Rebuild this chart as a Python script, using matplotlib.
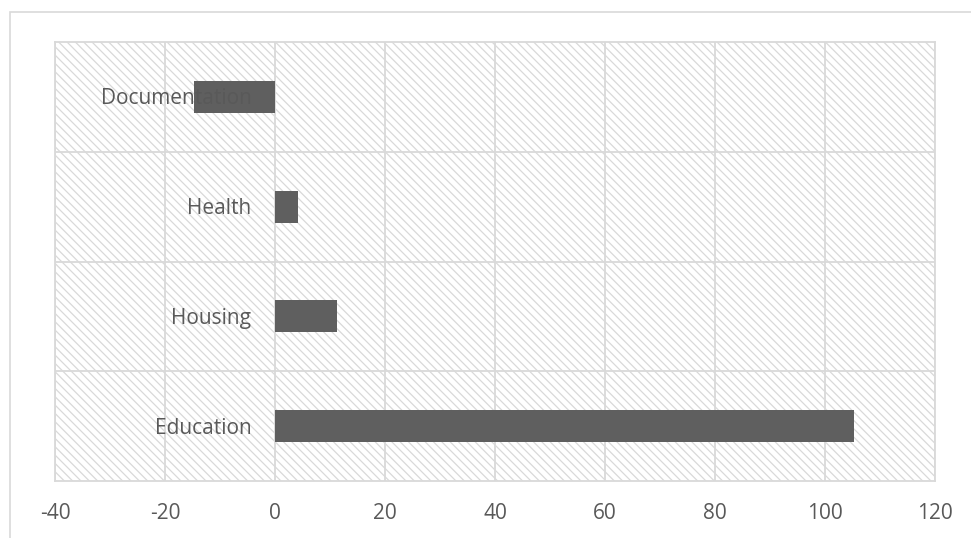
import matplotlib.pyplot as plt
from matplotlib.patches import Rectangle

categories = ['Education', 'Housing', 'Health', 'Documentation']
values = [105.3, 11.3, 4.2, -14.8]
x_ticks = [-40, -20, 0, 20, 40, 60, 80, 100, 120]

plt.rcParams['font.family'] = ['Open Sans', 'DejaVu Sans']
plt.rcParams['hatch.color'] = '#dedede'
plt.rcParams['hatch.linewidth'] = 0.9

text_col = '#595959'
grid_col = '#d9d9d9'

fig = plt.figure(figsize=(9.71, 5.38), dpi=100)
ax = fig.add_axes([55 / 971, 1 - 481 / 538, 880 / 971, 439 / 538])

# outer chart frame
fig.patches.append(Rectangle((10 / 971, -0.1), 1.0, 1 - 12 / 538 + 0.1,
                             transform=fig.transFigure, fill=False,
                             edgecolor=grid_col, linewidth=1.2))

# hatched plot area
ax.patch.set_facecolor('white')
ax.add_patch(Rectangle((0, 0), 1, 1, transform=ax.transAxes, facecolor='white',
                       edgecolor=grid_col, hatch='\\\\\\\\', linewidth=0, zorder=0))

pos = list(range(len(categories)))
ax.barh(pos, values, height=0.29, color='#5f5f5f', zorder=3)

ax.set_xlim(-40, 120)
ax.set_ylim(-0.5, len(categories) - 0.5)
ax.set_xticks(x_ticks)
ax.set_xticklabels([str(t) for t in x_ticks])
ax.set_yticks([])
ax.tick_params(axis='x', length=0, pad=16, labelsize=15, labelcolor=text_col)

for t in x_ticks:
    ax.axvline(t, color=grid_col, linewidth=1.3, zorder=1)
for b in [i + 0.5 for i in range(len(categories) - 1)]:
    ax.axhline(b, color=grid_col, linewidth=1.3, zorder=1)

for s in ax.spines.values():
    s.set_color(grid_col)
    s.set_linewidth(1.3)

# category labels sit just left of the zero line
for p, c in zip(pos, categories):
    ax.annotate(c, xy=(0, p), xytext=(-17, -1.5), textcoords='offset points',
                ha='right', va='center', fontsize=15, color=text_col, zorder=5)

fig.savefig('out.png', dpi=100)
